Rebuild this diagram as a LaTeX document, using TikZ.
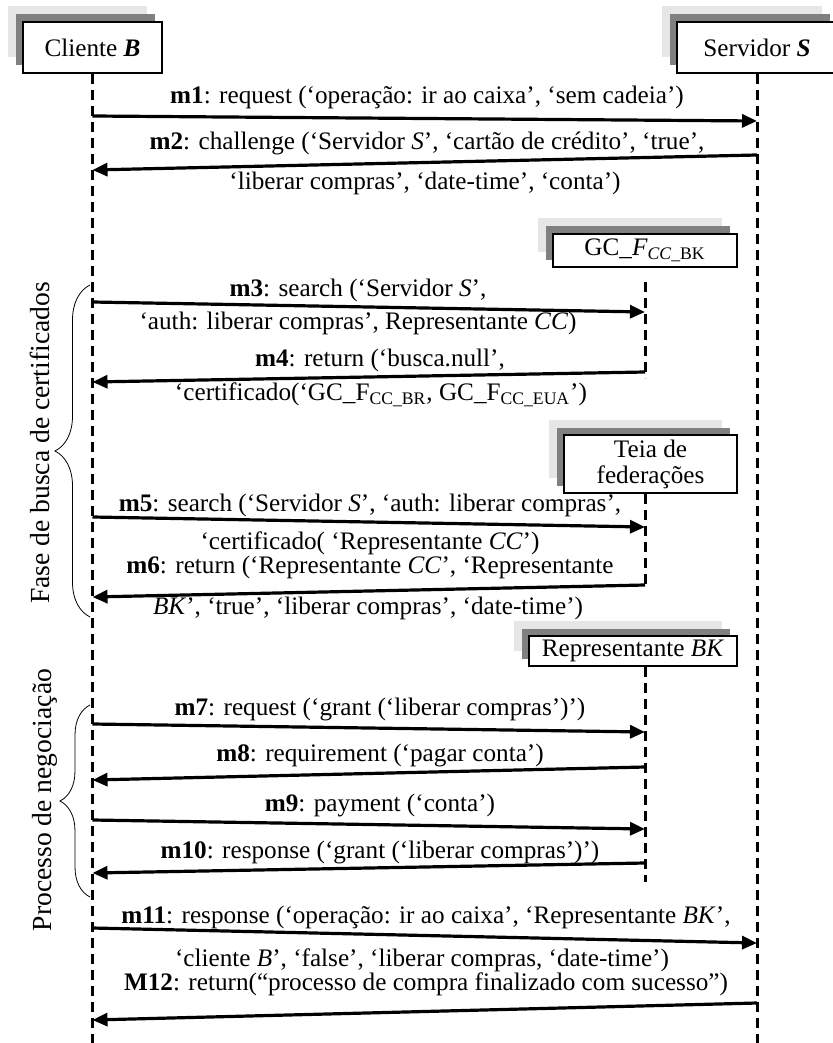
\documentclass[tikz,border=0pt]{standalone}
\usepackage{fontspec}
\setmainfont{Liberation Serif}
\usetikzlibrary{arrows.meta, positioning, shadows, decorations.pathreplacing}
\definecolor{ShadowLight}{RGB}{230,230,230}
\definecolor{ShadowDark}{RGB}{128,128,128}

\begin{document}
\begin{tikzpicture}[
    x=0.5pt, y=-0.5pt,
    font=\fontsize{12.6pt}{13pt}\selectfont,
    obj/.style={rectangle, draw, thick, fill=white, align=center, inner sep=0.5pt,
      general shadow={fill=ShadowLight, shadow xshift=-7.5pt, shadow yshift=7.75pt},
      general shadow={fill=ShadowDark, shadow xshift=-3.5pt, shadow yshift=3.75pt}},
    lifeline/.style={line width=1.5pt, dash pattern=on 5pt off 3pt},
    msg/.style={-{Triangle[length=7.5pt, width=6.5pt]}, line width=1.6pt},
    lbl/.style={inner sep=0pt},
    phase/.style={decorate, decoration={brace, amplitude=#1}, thin},
    phaselbl/.style={rotate=90, font=\fontsize{13.8pt}{15pt}\selectfont}
  ]
  \useasboundingbox (0,0) rectangle (832,1043);

  \node (cliente) [obj, minimum width=69.5pt, minimum height=25.5pt] at (92.5,47.5) {Cliente \textbf{\textit{B}}};
  \node (servidor) [obj, minimum width=80pt, minimum height=25.5pt] at (757,47.5) {Servidor \textbf{\textit{S}}};
  \node (gcbk) [obj, minimum width=92pt, minimum height=16.5pt] at (645,250.5) {GC\_\textit{F}\textsubscript{\textit{CC}\_BK}};
  \node (teia) [obj, minimum width=86.5pt, minimum height=29pt] at (650.5,464) {Teia de\\federações};
  \node (repbk) [obj, minimum width=104pt, minimum height=15pt] at (633,651) {Representante \textit{BK}};

  \draw [lifeline] (cliente.south) -- (cliente |- 0,1043);
  \draw [lifeline] (servidor.south) -- (servidor |- 0,1043);
  \draw [lifeline] (gcbk |- 0,282) -- (gcbk |- 0,378);
  \draw [lifeline] (teia.south -| gcbk) -- (gcbk |- 0,588);
  \draw [lifeline] (repbk.south -| gcbk) -- (gcbk |- 0,882);

  \draw [msg] (cliente |- 0,116) -- (servidor |- 0,121);
  \node (l1) [lbl] at (427,97) {\textbf{m1}: request (‘operação: ir ao caixa’, ‘sem cadeia’)};

  \draw [msg] (servidor |- 0,155) -- (cliente |- 0,170);
  \node (l2a) [lbl] at (427,143) {\textbf{m2}: challenge (‘Servidor \textit{S}’, ‘cartão de crédito’, ‘true’,};
  \node (l2b) [lbl] at (425,183) {‘liberar compras’, ‘date-time’, ‘conta’)};

  \draw [msg] (cliente |- 0,302) -- (gcbk |- 0,312);
  \node (l3a) [lbl] at (358,290) {\textbf{m3}: search (‘Servidor \textit{S}’,};
  \node (l3b) [lbl] at (358,323) {‘auth: liberar compras’, Representante \textit{CC})};

  \draw [msg] (gcbk |- 0,372) -- (cliente |- 0,382);
  \node (l4a) [lbl] at (380,360) {\textbf{m4}: return (‘busca.null’,};
  \node (l4b) [lbl] at (381,395) {‘certificado(‘GC\_F\textsubscript{CC\_BR}, GC\_F\textsubscript{CC\_EUA}’)};

  \draw [msg] (cliente |- 0,517) -- (gcbk |- 0,527);
  \node (l5a) [lbl] at (370,505) {\textbf{m5}: search (‘Servidor \textit{S}’, ‘auth: liberar compras’,};
  \node (l5b) [lbl] at (370,543) {‘certificado( ‘Representante \textit{CC}’)};

  \draw [msg] (gcbk |- 0,585) -- (cliente |- 0,597);
  \node (l6a) [lbl] at (370,567) {\textbf{m6}: return (‘Representante \textit{CC}’, ‘Representante};
  \node (l6b) [lbl] at (368,608) {\textit{BK}’, ‘true’, ‘liberar compras’, ‘date-time’)};

  \draw [msg] (cliente |- 0,724) -- (gcbk |- 0,732);
  \node (l7) [lbl] at (380,709) {\textbf{m7}: request (‘grant (‘liberar compras’)’)};

  \draw [msg] (gcbk |- 0,767) -- (cliente |- 0,780);
  \node (l8) [lbl] at (380,755) {\textbf{m8}: requirement (‘pagar conta’)};

  \draw [msg] (cliente |- 0,820) -- (gcbk |- 0,829);
  \node (l9) [lbl] at (380,805) {\textbf{m9}: payment (‘conta’)};

  \draw [msg] (gcbk |- 0,863) -- (cliente |- 0,873);
  \node (l10) [lbl] at (380,852) {\textbf{m10}: response (‘grant (‘liberar compras’)’)};

  \draw [msg] (cliente |- 0,928) -- (servidor |- 0,943);
  \node (l11a) [lbl] at (426,917) {\textbf{m11}: response (‘operação: ir ao caixa’, ‘Representante \textit{BK}’,};
  \node (l11b) [lbl] at (422,960) {‘cliente \textit{B}’, ‘false’, ‘liberar compras, ‘date-time’)};

  \draw [msg] (servidor |- 0,1003) -- (cliente |- 0,1020);
  \node (l12) [lbl] at (426,984) {\textbf{M12}: return(“processo de compra finalizado com sucesso”)};

  \draw [phase=17.5pt] (90,617) -- (90,285);
  \node (fase) [phaselbl] at (40,443) {Fase de busca de certificados};
  \draw [phase=15pt] (90,897) -- (90,705);
  \node (negoc) [phaselbl] at (45,800) {Processo de negociação};
\end{tikzpicture}
\end{document}
